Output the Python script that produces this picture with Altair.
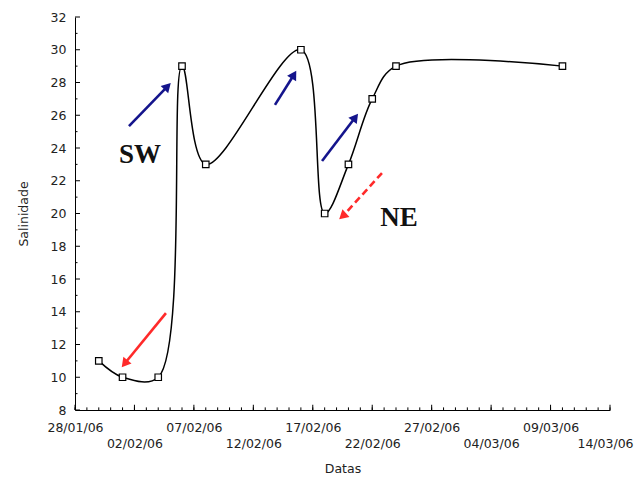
import altair as alt
import pandas as pd

# ---- data ----
dates = ["2006-01-30", "2006-02-01", "2006-02-04", "2006-02-06", "2006-02-08",
         "2006-02-16", "2006-02-18", "2006-02-20", "2006-02-22", "2006-02-24",
         "2006-03-10"]
salinity = [11, 10, 10, 29, 23, 30, 20, 23, 27, 29, 29]

# axis ticks
x_major_days = list(range(0, 46, 5))       # days after 28/01/06
x_minor_days = list(range(0, 46, 1))
y_major = list(range(8, 33, 2))
y_minor = list(range(9, 32, 2))

# annotations (days after 28/01/06, salinity)
arrow_color = ["#14148c", "#14148c", "#14148c", "#ff2a2a", "#ff2a2a"]
arrow_dash = [0, 0, 0, 0, 1]
arrow_x0 = [4.54, 16.82, 20.78, 7.65, 25.82]
arrow_y0 = [25.34, 26.63, 23.21, 13.92, 22.47]
arrow_x1 = [7.70, 18.35, 23.50, 4.25, 22.60]
arrow_y1 = [27.70, 28.40, 25.80, 10.90, 19.90]
arrow_angle = [44, 31, 37, 219, 228]

label_text = ["SW", "NE"]
label_x = [5.47, 27.25]
label_y = [23.57, 19.73]

# ---- build tables ----
t0 = pd.Timestamp("2006-01-28")
def day(d):
    return t0 + pd.Timedelta(days=d)

df = pd.DataFrame({"date": pd.to_datetime(dates), "sal": salinity})

tick_rows = []
for d in x_major_days:
    tick_rows.append({"x": day(d), "x2": day(d), "y": 8, "y2": 8.32})
for d in x_minor_days:
    tick_rows.append({"x": day(d), "x2": day(d), "y": 8, "y2": 8.16})
for v in y_major:
    tick_rows.append({"x": day(0), "x2": day(0.42), "y": v, "y2": v})
for v in y_minor:
    tick_rows.append({"x": day(0), "x2": day(0.21), "y": v, "y2": v})
ticks = pd.DataFrame(tick_rows)

arrows = pd.DataFrame({
    "x0": [day(v) for v in arrow_x0], "y0": arrow_y0,
    "x1": [day(v) for v in arrow_x1], "y1": arrow_y1,
    "color": arrow_color, "dash": arrow_dash, "angle": arrow_angle,
})
labels = pd.DataFrame({"x": [day(v) for v in label_x], "y": label_y, "t": label_text})

t0ms = 1138406400000
label_expr = ("(round((datum.value - %d) / 432000000) %% 2 == 1) ? "
              "['', utcFormat(datum.value, '%%d/%%m/%%y')] : "
              "utcFormat(datum.value, '%%d/%%m/%%y')") % t0ms

xvals = [alt.DateTime(year=2006, month=day(d).month, date=day(d).day, utc=True)
         for d in x_major_days]
xscale = alt.Scale(type="utc",
                   domain=[alt.DateTime(year=2006, month=1, date=28, utc=True),
                           alt.DateTime(year=2006, month=3, date=14, utc=True)],
                   nice=False)
yscale = alt.Scale(domain=[8, 32], nice=False, zero=False)

FONT = "DejaVu Sans"
FS = 12.5

xaxis = alt.Axis(title="Datas", values=xvals, labelExpr=label_expr, ticks=False,
                 grid=False, domainColor="black", labelColor="#222",
                 labelFont=FONT, labelFontSize=FS, labelPadding=11,
                 labelOffset={"condition": {"test": "datum.value > 1142000000000",
                                            "value": -5}, "value": 0},
                 labelLineHeight=16, labelOverlap=False, labelFlush=False,
                 titleFont=FONT, titleFontSize=FS, titleFontWeight="normal",
                 titleColor="#222", titlePadding=13)
yaxis = alt.Axis(title="Salinidade", values=y_major, ticks=False,
                 grid=False, domainColor="black", labelColor="#222",
                 labelFont=FONT, labelFontSize=FS, labelPadding=9,
                 labelOverlap=False, labelFlush=False,
                 titleFont=FONT, titleFontSize=FS, titleFontWeight="normal",
                 titleColor="#222", titlePadding=20)

def X(f):
    return alt.X(f, type="temporal", scale=xscale, axis=xaxis)

def Y(f):
    return alt.Y(f, type="quantitative", scale=yscale, axis=yaxis)

line = alt.Chart(df).mark_line(interpolate="catmull-rom", color="black",
                               strokeWidth=1.5).encode(x=X("date"), y=Y("sal"))
pts = alt.Chart(df).mark_point(shape="square", size=42, filled=True, fill="white",
                               stroke="black", strokeWidth=1.2, opacity=1).encode(
    x=X("date"), y=Y("sal"))

tick_layer = alt.Chart(ticks).mark_rule(color="black", strokeWidth=1).encode(
    x=X("x"), x2="x2:T", y=Y("y"), y2="y2:Q")

solid = alt.Chart(arrows).transform_filter("datum.dash == 0").mark_rule(
    strokeWidth=2.6).encode(
    x=X("x0"), x2="x1:T", y=Y("y0"), y2="y1:Q",
    color=alt.Color("color:N", scale=None))
dashed = alt.Chart(arrows).transform_filter("datum.dash == 1").mark_rule(
    strokeWidth=2.6, strokeDash=[7, 4]).encode(
    x=X("x0"), x2="x1:T", y=Y("y0"), y2="y1:Q",
    color=alt.Color("color:N", scale=None))
heads = alt.Chart(arrows).mark_point(shape="triangle", filled=True, size=110,
                                     opacity=1).encode(
    x=X("x1"), y=Y("y1"),
    color=alt.Color("color:N", scale=None),
    angle=alt.Angle("angle:Q", scale=None))

texts = alt.Chart(labels).mark_text(font="Liberation Serif", fontWeight="bold",
                                    fontSize=27, color="#111").encode(
    x=X("x"), y=Y("y"), text="t:N")

chart = alt.layer(line, tick_layer, pts, solid, dashed, heads, texts).properties(
    width=535, height=393,
    background="white",
    autosize=alt.AutoSizeParams(type="none"),
    padding={"left": 67, "top": 9, "right": 24, "bottom": 66},
).configure_view(strokeWidth=0)

chart.save("out.html", embed_options={"renderer": "svg", "actions": False})
